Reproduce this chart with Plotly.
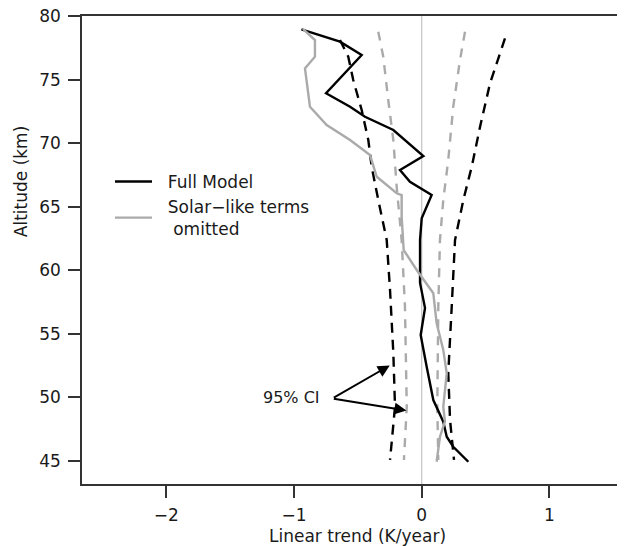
import plotly.graph_objects as go

# Full model trend profile
full_alt = [78.95, 77.98, 76.93, 73.92, 72.86, 72.07, 71.03, 68.98, 67.88, 66.96, 65.91,
            64.08, 62.37, 58.99, 57.02, 54.89, 52.40, 49.78, 48.07, 46.89, 46.10, 44.92]
full_trend = [-0.942, -0.640, -0.470, -0.749, -0.561, -0.444, -0.222, 0.013, -0.170, -0.092, 0.078,
              0.0, -0.013, -0.013, 0.026, -0.008, 0.039, 0.091, 0.169, 0.196, 0.247, 0.365]

# Solar-like terms omitted profile
solar_alt = [78.98, 78.11, 76.80, 75.88, 72.86, 71.42, 70.24, 69.06, 67.35, 66.05, 65.91,
             64.20, 61.58, 60.01, 58.18, 55.81, 53.71, 51.88, 49.25, 48.07, 46.89, 44.92]
solar_trend = [-0.930, -0.836, -0.836, -0.914, -0.875, -0.744, -0.561, -0.405, -0.352, -0.196, -0.157,
               -0.157, -0.141, -0.039, 0.091, 0.117, 0.169, 0.196, 0.169, 0.182, 0.143, 0.117]

# 95% CI, full model
full_ci_lo_alt = [78.11, 76.80, 74.96, 72.60, 70.24, 68.14, 65.52, 62.37, 58.44, 53.45, 49.25, 45.06]
full_ci_lo = [-0.640, -0.575, -0.536, -0.470, -0.418, -0.392, -0.340, -0.274, -0.248, -0.222, -0.209, -0.248]
full_ci_hi_alt = [78.24, 74.70, 71.29, 68.14, 65.52, 62.37, 57.12, 51.88, 48.20, 45.06]
full_ci_hi = [0.652, 0.535, 0.457, 0.392, 0.326, 0.261, 0.235, 0.208, 0.222, 0.253]

# 95% CI, solar-like terms omitted
solar_ci_lo_alt = [78.76, 76.80, 73.39, 70.24, 66.57, 62.37, 57.12, 49.25, 45.06]
solar_ci_lo = [-0.340, -0.301, -0.262, -0.222, -0.196, -0.157, -0.131, -0.117, -0.139]
solar_ci_hi_alt = [78.76, 76.54, 72.86, 68.67, 65.52, 62.37, 57.12, 49.25, 45.06]
solar_ci_hi = [0.339, 0.300, 0.247, 0.208, 0.169, 0.143, 0.130, 0.122, 0.130]

x_ticks = [-2, -1, 0, 1]
x_tick_text = ["\u22122", "\u22121", "0", "1"]
y_ticks = [45, 50, 55, 60, 65, 70, 75, 80]

BLACK = "#000000"
GREY = "#aaaaaa"
FONT = "DejaVu Sans"
TXT = "#1a1a1a"
NB = "\u00a0"

fig = go.Figure()

# zero reference line
fig.add_shape(type="line", x0=0, x1=0, y0=0, y1=1, xref="x", yref="paper",
              line=dict(color="#c4c4c4", width=1.2), layer="below")

fig.add_trace(go.Scatter(x=full_ci_lo, y=full_ci_lo_alt, mode="lines", showlegend=False,
                         line=dict(color=BLACK, width=2.4, dash="10px,7px")))
fig.add_trace(go.Scatter(x=full_ci_hi, y=full_ci_hi_alt, mode="lines", showlegend=False,
                         line=dict(color=BLACK, width=2.4, dash="10px,7px")))
fig.add_trace(go.Scatter(x=solar_ci_lo, y=solar_ci_lo_alt, mode="lines", showlegend=False,
                         line=dict(color=GREY, width=2.4, dash="9px,8px")))
fig.add_trace(go.Scatter(x=solar_ci_hi, y=solar_ci_hi_alt, mode="lines", showlegend=False,
                         line=dict(color=GREY, width=2.4, dash="9px,8px")))

fig.add_trace(go.Scatter(x=full_trend, y=full_alt, mode="lines", name=NB * 2 + "Full Model",
                         line=dict(color=BLACK, width=2.4)))
fig.add_trace(go.Scatter(x=solar_trend, y=solar_alt, mode="lines",
                         name=NB * 2 + "Solar\u2212like terms<br>" + NB * 3 + "omitted",
                         line=dict(color=GREY, width=2.4)))

# arrows for the CI label
tail_x, tail_y = -0.70, 49.9
for hx, hy in [(-0.25, 52.5), (-0.12, 48.95)]:
    fig.add_annotation(x=hx, y=hy, ax=tail_x, ay=tail_y, xref="x", yref="y", axref="x", ayref="y",
                       text="", showarrow=True, arrowhead=2, arrowsize=1.2, arrowwidth=2,
                       arrowcolor=BLACK)
fig.add_annotation(x=-1.02, y=50.0, xref="x", yref="y", text="95% CI", showarrow=False,
                   xanchor="center", yanchor="middle",
                   font=dict(family=FONT, size=16, color=TXT))

# page body has an 8px margin: figure occupies x 8..625, y 8..546 of the window
L, T, W, H = 74, 8, 617, 538
PL, PR, PT, PB = 82, 625, 16, 484  # plot area in window pixels


def px(x):
    return (x - PL) / (PR - PL)


def py(y):
    return (PB - y) / (PB - PT)


fig.add_annotation(x=px(21.7), y=py(181.5), xref="paper", yref="paper", text="Altitude (km)",
                   textangle=-90, showarrow=False, xanchor="center", yanchor="middle",
                   font=dict(family=FONT, size=17, color=TXT))
fig.add_annotation(x=px(357), y=py(536), xref="paper", yref="paper",
                   text="Linear trend (K/year)", showarrow=False, xanchor="center", yanchor="middle",
                   font=dict(family=FONT, size=17, color=TXT))

fig.update_layout(
    width=W, height=H,
    margin=dict(l=L, r=0, t=T, b=H - (PB - 8), pad=0, autoexpand=False),
    paper_bgcolor="white", plot_bgcolor="white",
    font=dict(family=FONT, size=17, color=TXT),
    legend=dict(x=px(110), y=0.684, xanchor="left", yanchor="top", bgcolor="rgba(0,0,0,0)",
                itemwidth=37, font=dict(family=FONT, size=17, color=TXT), tracegroupgap=0),
    xaxis=dict(range=[(PL - 421.7) / 127.7, (PR - 421.7) / 127.7], tickvals=x_ticks,
               ticktext=x_tick_text, showgrid=False, zeroline=False, showline=True,
               linecolor="#333", linewidth=1.5, mirror=True, ticks="outside", ticklen=12,
               tickwidth=1.5, tickcolor="#333", tickfont=dict(size=17),
               ticklabelstandoff=3, ticklabeloverflow="allow"),
    yaxis=dict(range=[43.17, 80.001], tickvals=y_ticks, showgrid=False, zeroline=False,
               showline=True, linecolor="#333", linewidth=1.5, ticks="outside", ticklen=12,
               tickwidth=1.5, tickcolor="#333", tickfont=dict(size=17),
               ticklabelstandoff=4, ticklabeloverflow="allow"),
)

fig.write_html("out.html")
